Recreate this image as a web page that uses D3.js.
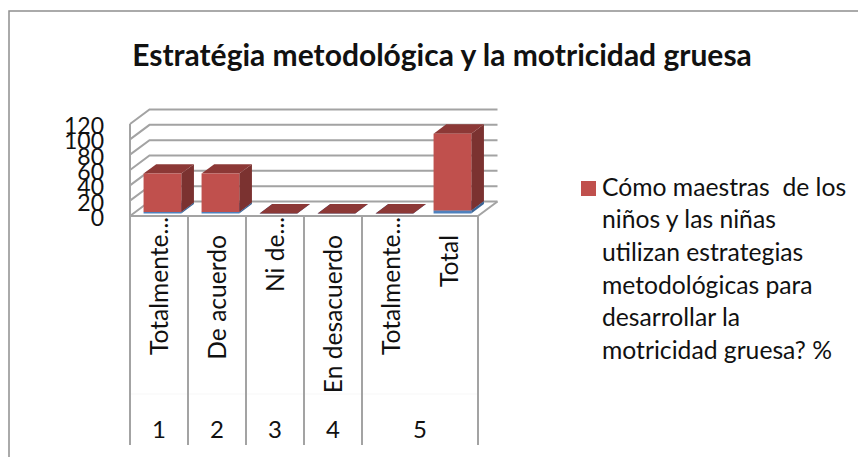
<!DOCTYPE html>
<html>
<head>
<meta charset="utf-8">
<script src="https://cdn.jsdelivr.net/npm/d3@7"></script>
<style>
    body { margin: 0; background: #fff; }
    text { font-family: Lato, "Noto Sans", sans-serif; fill: #111; }
</style>
</head>
<body>
<div id="chart-area"></div>
<script>
// values
var categories = ["Totalmente...", "De acuerdo", "Ni de...", "En desacuerdo", "Totalmente...", "Total"];
var groupLabels = ["1", "2", "3", "4", "5"];
var groupSpans = [1, 1, 1, 1, 2];
var countValues = [2, 2, 0, 0, 0, 4];
var percentValues = [50, 50, 0, 0, 0, 100];
var yTicks = [0, 20, 40, 60, 80, 100, 120];
var titleText = "Estratégia metodológica y la motricidad gruesa";
var legendLines = ["Cómo maestras  de los", "niños y las niñas", "utilizan estrategias", "metodológicas para", "desarrollar la", "motricidad gruesa? %"];

var svg = d3.select("#chart-area").append("svg")
    .attr("width", 858)
    .attr("height", 457)
    .style("display", "block");

var gridColor = "#a3a3a3";

// chart border, only top and left are in the picture
svg.append("path")
    .attr("d", "M9,457V11H858")
    .attr("fill", "none")
    .attr("stroke", "#8f8f8f")
    .attr("stroke-width", 1.5);

svg.append("text")
    .attr("x", 442)
    .attr("y", 66)
    .attr("text-anchor", "middle")
    .attr("font-size", 30)
    .attr("font-weight", 700)
    .text(titleText);

// scales: x and y on the front plane, depth goes to the back wall
var x = d3.scaleBand().domain(d3.range(categories.length)).range([130, 478]);
var y = d3.scaleLinear().domain([0, 120]).range([216, 124]);
var depthX = d3.scaleLinear().domain([0, 1]).range([0, 19.5]);
var depthY = d3.scaleLinear().domain([0, 1]).range([0, -14.5]);

function pt(px, py, d) {
    return [px + depthX(d), py + depthY(d)];
}

// faint line between the two label levels
svg.append("line")
    .attr("x1", 130).attr("x2", 478)
    .attr("y1", 394).attr("y2", 394)
    .attr("stroke", "#f4f4f4")
    .attr("stroke-width", 0.7);

// back wall grid + left wall
var grid = svg.append("g")
    .attr("fill", "none")
    .attr("stroke", gridColor)
    .attr("stroke-width", 2);

yTicks.forEach(function (t) {
    grid.append("path").attr("d", d3.line()([
        pt(130, y(t), 0), pt(130, y(t), 1), pt(478, y(t), 1)
    ]));
});
grid.append("path").attr("d", d3.line()([pt(478, y(0), 0), pt(478, y(0), 1)]));
grid.append("line").attr("x1", 130).attr("x2", 130).attr("y1", y(120)).attr("y2", 445);
grid.append("line").attr("x1", 129).attr("x2", 478).attr("y1", y(0)).attr("y2", y(0));

// separators under the axis, only at the group edges
var groupEdges = [];
var cum = 0;
groupSpans.forEach(function (s) { cum += s; groupEdges.push(cum); });
grid.selectAll(".sep")
    .data(groupEdges)
    .enter()
    .append("line")
    .attr("class", "sep")
    .attr("x1", function (d) { return 130 + d * x.bandwidth(); })
    .attr("x2", function (d) { return 130 + d * x.bandwidth(); })
    .attr("y1", y(0))
    .attr("y2", 445);

// one 3d box
var d0 = 0.175, d1 = 0.825;
function box(g, i, v0, v1, front, top, side) {
    var xa = x(i) + d0 * x.bandwidth();
    var xb = x(i) + d1 * x.bandwidth();
    var ya = y(v0), yb = y(v1);
    var line = d3.line();
    g.append("path").attr("fill", side).attr("d", line([
        pt(xb, ya, d0), pt(xb, ya, d1), pt(xb, yb, d1), pt(xb, yb, d0)
    ]) + "Z");
    g.append("path").attr("fill", top).attr("d", line([
        pt(xa, yb, d0), pt(xa, yb, d1), pt(xb, yb, d1), pt(xb, yb, d0)
    ]) + "Z");
    g.append("path").attr("fill", front).attr("d", line([
        pt(xa, ya, d0), pt(xb, ya, d0), pt(xb, yb, d0), pt(xa, yb, d0)
    ]) + "Z");
}

var bars = svg.append("g");
categories.forEach(function (c, i) {
    box(bars, i, 0, countValues[i], "#4f81bd", "#4473ab", "#3a6595");
    box(bars, i, countValues[i], countValues[i] + percentValues[i], "#c0504d", "#8c3836", "#7b3230");
});

// y axis, labels are big enough to overlap like in the original
var yAxis = d3.axisLeft(y).tickValues(yTicks).tickSize(0).tickPadding(26);
svg.append("g")
    .call(yAxis)
    .call(function (g) { g.select(".domain").remove(); })
    .call(function (g) {
        g.selectAll("text").attr("font-size", 23).attr("font-family", null).attr("fill", "#111");
    })
    .attr("transform", "translate(130,2)");

// rotated category labels
svg.selectAll(".cat")
    .data(categories)
    .enter()
    .append("text")
    .attr("class", "cat")
    .attr("text-anchor", "end")
    .attr("font-size", 24.6)
    .attr("dy", "0.36em")
    .attr("transform", function (d, i) {
        var top = d.indexOf("...") >= 0 ? 217 : 235;
        return "translate(" + (x(i) + x.bandwidth() / 2) + "," + top + ") rotate(-90)";
    })
    .text(function (d) { return d; });

// second level of the category axis
var start = 0;
groupLabels.forEach(function (g, i) {
    var end = start + groupSpans[i];
    svg.append("text")
        .attr("x", (x(start) + x(end - 1) + x.bandwidth()) / 2)
        .attr("y", 438)
        .attr("text-anchor", "middle")
        .attr("font-size", 24)
        .text(g);
    start = end;
});

// legend
svg.append("rect")
    .attr("x", 581).attr("y", 181)
    .attr("width", 15).attr("height", 15)
    .attr("fill", "#c0504d");

svg.selectAll(".legend")
    .data(legendLines)
    .enter()
    .append("text")
    .attr("class", "legend")
    .attr("x", 602)
    .attr("y", function (d, i) { return 195.7 + i * 32.6; })
    .attr("font-size", 24.7)
    .style("white-space", "pre")
    .text(function (d) { return d; });
</script>
</body>
</html>
